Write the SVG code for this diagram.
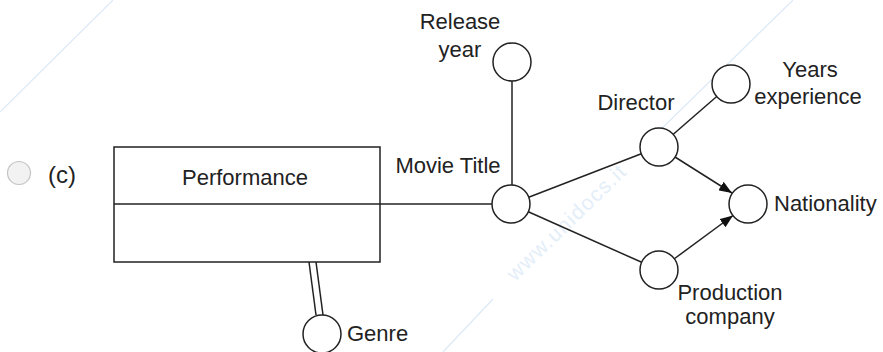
<svg xmlns="http://www.w3.org/2000/svg" width="883" height="352" viewBox="0 0 883 352">
<style>
text{font-family:"Liberation Sans",Arial,sans-serif;font-size:22px;fill:#222}
.c{fill:#fff;stroke:#222;stroke-width:1.5}
.e{stroke:#222;stroke-width:1.5;fill:none}
.wm{stroke:#dce9f6;stroke-width:1.2;fill:none}
</style>
<defs>
<marker id="ah" markerWidth="14" markerHeight="10" refX="13" refY="5" orient="auto" markerUnits="userSpaceOnUse">
<path d="M0,0 L13,5 L0,10 Z" fill="#111"/>
</marker>
</defs>
<rect width="883" height="352" fill="#fff"/>
<g id="watermark">
<line class="wm" x1="113" y1="0" x2="0" y2="112"/>
<line class="wm" x1="793" y1="0" x2="647" y2="143"/>
<line class="wm" x1="493" y1="299" x2="443" y2="352"/>
<text x="515" y="282" transform="rotate(-44 515 282)" textLength="156" style="fill:#e3eef9;font-size:21px">www.unidocs.it</text>
</g>
<g id="option">
<circle cx="19" cy="173" r="11.5" fill="#f2f2f2" stroke="#c4c4c4" stroke-width="1.2"/>
<text x="48" y="183" style="font-size:24px">(c)</text>
</g>
<g id="connectors">
<line class="e" x1="380" y1="204" x2="492" y2="204"/>
<line class="e" x1="512" y1="81" x2="512" y2="185"/>
<line class="e" x1="528.7" y1="197.2" x2="641.3" y2="153.8"/>
<line class="e" x1="528.3" y1="211.7" x2="641.7" y2="262.3"/>
<line class="e" x1="673" y1="134.5" x2="716.7" y2="96.5"/>
<line class="e" x1="675" y1="157" x2="732" y2="193" marker-end="url(#ah)"/>
<line class="e" x1="674" y1="259" x2="733" y2="215.5" marker-end="url(#ah)"/>
<line class="e" x1="309" y1="262" x2="316" y2="315"/>
<line class="e" x1="316" y1="262" x2="323" y2="315"/>
</g>
<g id="performance">
<rect x="114" y="147" width="266" height="115" fill="#fff" stroke="#222" stroke-width="1.5"/>
<line class="e" x1="114" y1="204" x2="380" y2="204"/>
<text x="245" y="185" text-anchor="middle">Performance</text>
</g>
<g id="release-year">
<circle class="c" cx="512" cy="62" r="19"/>
<text x="460" y="29" text-anchor="middle">Release</text>
<text x="460" y="57" text-anchor="middle">year</text>
</g>
<g id="movie-title">
<circle class="c" cx="511" cy="204" r="19"/>
<text x="448" y="173" text-anchor="middle">Movie Title</text>
</g>
<g id="director">
<circle class="c" cx="659" cy="147" r="19"/>
<text x="636" y="110" text-anchor="middle">Director</text>
</g>
<g id="years-experience">
<circle class="c" cx="731" cy="84" r="19"/>
<text x="810" y="77" text-anchor="middle">Years</text>
<text x="808" y="104" text-anchor="middle">experience</text>
</g>
<g id="nationality">
<circle class="c" cx="748" cy="204" r="19"/>
<text x="774" y="211">Nationality</text>
</g>
<g id="production-company">
<circle class="c" cx="659" cy="270" r="19"/>
<text x="730" y="300" text-anchor="middle">Production</text>
<text x="730" y="324" text-anchor="middle">company</text>
</g>
<g id="genre">
<circle class="c" cx="322" cy="334" r="19"/>
<text x="347" y="341">Genre</text>
</g>
</svg>
